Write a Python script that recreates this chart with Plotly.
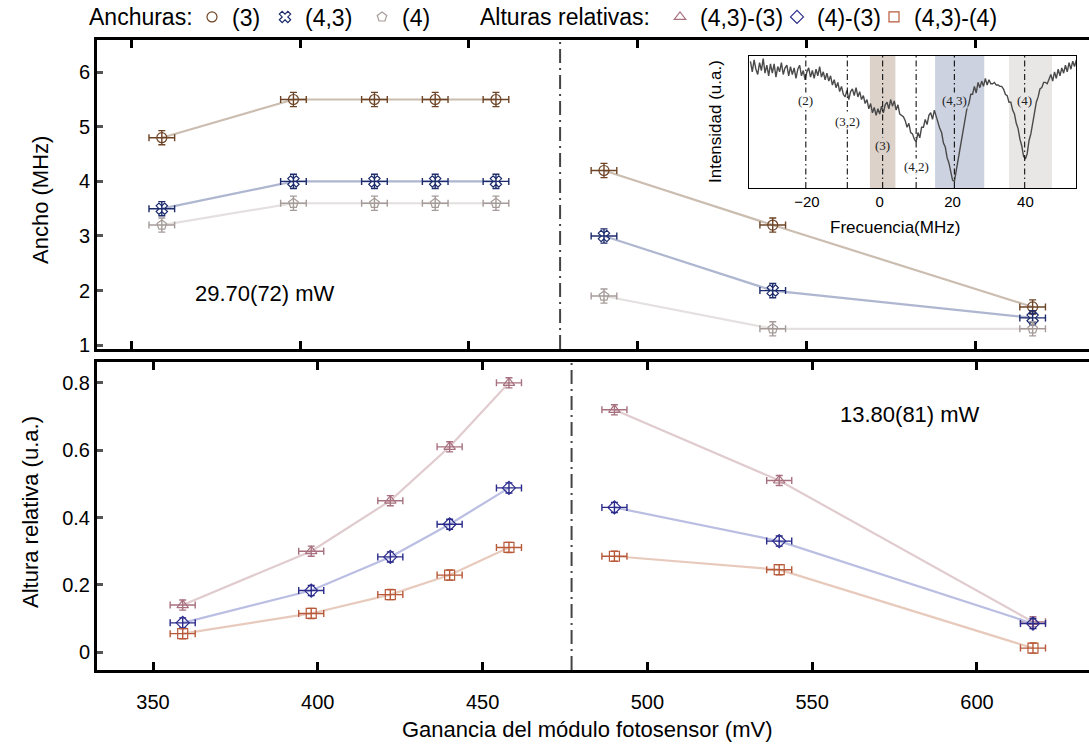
import plotly.graph_objects as go

# ---------------- data ----------------
gain_left = [359, 398, 422, 440, 458]
gain_right = [490, 540, 617]
gain_err = 3.8
separator_gain = 477

# widths (MHz)
w3_left = [4.8, 5.5, 5.5, 5.5, 5.5]
w3_right = [4.2, 3.2, 1.7]
w43_left = [3.5, 4.0, 4.0, 4.0, 4.0]
w43_right = [3.0, 2.0, 1.5]
w4_left = [3.2, 3.6, 3.6, 3.6, 3.6]
w4_right = [1.9, 1.3, 1.3]
width_err = 0.13

# relative heights (u.a.)
h43_3_left = [0.14, 0.30, 0.45, 0.61, 0.80]
h43_3_right = [0.72, 0.51, 0.09]
h4_3_left = [0.087, 0.183, 0.283, 0.38, 0.488]
h4_3_right = [0.43, 0.33, 0.085]
h43_4_left = [0.055, 0.115, 0.171, 0.229, 0.311]
h43_4_right = [0.285, 0.245, 0.012]
height_err = 0.015

power_top = "29.70(72) mW"
power_bottom = "13.80(81) mW"

# inset spectrum (intensity, u.a.) sampled every 0.5 MHz starting at -35.5 MHz
spec_start = -35.5
spec_step = 0.5
spectrum = [
    0.96, 0.88, 0.97, 0.90, 0.86, 0.95, 0.89, 0.98, 0.87, 0.93, 0.85, 0.94,
    0.87, 0.94, 0.84, 0.92, 0.88, 0.95, 0.86, 0.91, 0.93, 0.85,
    0.92, 0.86, 0.91, 0.83, 0.90, 0.93, 0.85, 0.89, 0.82, 0.88,
    0.91, 0.84, 0.89, 0.83, 0.90, 0.85, 0.92, 0.84, 0.88, 0.82,
    0.87, 0.81, 0.85, 0.78, 0.82, 0.76, 0.80, 0.73, 0.77, 0.71,
    0.69, 0.74, 0.67, 0.73, 0.75, 0.70, 0.76, 0.69, 0.73, 0.67,
    0.70, 0.64, 0.67, 0.60, 0.64, 0.57, 0.61, 0.55, 0.60, 0.56,
    0.62, 0.57, 0.63, 0.65, 0.60, 0.67, 0.62, 0.66, 0.59, 0.63,
    0.56, 0.55, 0.54, 0.51, 0.46, 0.49, 0.42, 0.41, 0.37, 0.35,
    0.42, 0.38, 0.46, 0.46, 0.52, 0.48, 0.55, 0.57, 0.52, 0.59,
    0.54, 0.51, 0.45, 0.42, 0.34, 0.31, 0.23, 0.19, 0.11, 0.06,
    0.05, 0.13, 0.19, 0.29, 0.35, 0.46, 0.51, 0.61, 0.64, 0.71,
    0.71, 0.77, 0.72, 0.80, 0.76, 0.81, 0.77, 0.83, 0.78, 0.82,
    0.79, 0.79, 0.80, 0.78, 0.78, 0.77, 0.77, 0.75, 0.71, 0.70,
    0.65, 0.65, 0.59, 0.56, 0.49, 0.45, 0.37, 0.32, 0.24, 0.22,
    0.26, 0.36, 0.41, 0.51, 0.57, 0.65, 0.69, 0.75, 0.76, 0.80,
    0.80, 0.79, 0.82, 0.86, 0.81, 0.88, 0.83, 0.90, 0.85, 0.91,
    0.87, 0.93, 0.88, 0.95, 0.90, 0.96, 0.92, 0.97,
]
transition_labels = ["(2)", "(3,2)", "(3)", "(4,2)", "(4,3)", "(4)"]
transition_freqs = [-20.3, -8.9, 0.8, 10.0, 20.5, 39.8]
label_heights = [0.665, 0.50, 0.325, 0.16, 0.66, 0.66]
label_bg = ["white", "white", "#dcd2ca", "white", "#cdd2e0", "#e9e7e6"]
band_lo = [-2.7, 15.2, 35.5]
band_hi = [4.3, 28.7, 47.3]
band_colors = ["#dcd2ca", "#cdd2e0", "#e9e7e6"]

# ---------------- figure ----------------
W, H = 1089, 745
fig = go.Figure()

FONT = "Liberation Sans, Arial, sans-serif"
LEG_FONT = 23

# legend slot (left px of each legend box) for each series
legend_slots = {"legend": 192, "legend2": 265, "legend3": 362,
                "legend4": 660, "legend5": 777, "legend6": 874}


def add_series(xaxis, yaxis, yl, yr, yerr, mcol, lcol, symbol, name, legend):
    fig.add_trace(go.Scatter(
        x=gain_left + [None] + gain_right, y=yl + [None] + yr,
        mode="lines", line=dict(color=lcol, width=2.2),
        xaxis=xaxis, yaxis=yaxis, showlegend=False, hoverinfo="skip"))
    fig.add_trace(go.Scatter(
        x=gain_left + gain_right, y=yl + yr, mode="markers",
        marker=dict(symbol=symbol, size=10, color=mcol,
                    line=dict(color=mcol, width=1.2)),
        error_x=dict(type="constant", value=gain_err, color=mcol,
                     thickness=1.4, width=3.5),
        error_y=dict(type="constant", value=yerr, color=mcol,
                     thickness=1.4, width=3.5),
        xaxis=xaxis, yaxis=yaxis, name=name, legend=legend,
        showlegend=True))


# top panel: widths
add_series("x2", "y2", w3_left, w3_right, width_err, "#6e4426", "#cbbdb0",
           "circle-open", "(3)", "legend")
add_series("x2", "y2", w43_left, w43_right, width_err, "#1c2b6b", "#aeb6d0",
           "x-open", "(4,3)", "legend2")
add_series("x2", "y2", w4_left, w4_right, width_err, "#a59c99", "#e4e0e0",
           "pentagon-open", "(4)", "legend3")

# bottom panel: relative heights
add_series("x", "y", h43_3_left, h43_3_right, height_err, "#a8717f", "#e0cbce",
           "triangle-up-open", "(4,3)-(3)", "legend4")
add_series("x", "y", h4_3_left, h4_3_right, height_err, "#2b2b8c", "#babee2",
           "diamond-open", "(4)-(3)", "legend5")
add_series("x", "y", h43_4_left, h43_4_right, height_err, "#b85a3a", "#e8cabd",
           "square-open", "(4,3)-(4)", "legend6")

# inset spectrum
fig.add_trace(go.Scatter(
    y=spectrum, x0=spec_start, dx=spec_step, mode="lines",
    line=dict(color="#4a4a4a", width=1.4), xaxis="x3", yaxis="y3",
    showlegend=False, hoverinfo="skip"))

shapes = []
for xa, ya in (("x2", "y2 domain"), ("x", "y domain")):
    shapes.append(dict(type="line", xref=xa, yref=ya, x0=separator_gain,
                       x1=separator_gain, y0=0, y1=1,
                       line=dict(color="#444444", width=2,
                                 dash="14px,5px,2px,5px")))
for lo, hi, c in zip(band_lo, band_hi, band_colors):
    shapes.append(dict(type="rect", xref="x3", yref="y3 domain", x0=lo, x1=hi,
                       y0=0, y1=1, fillcolor=c, line=dict(width=0),
                       layer="below"))
for f in transition_freqs:
    shapes.append(dict(type="line", xref="x3", yref="y3 domain", x0=f, x1=f,
                       y0=0, y1=1,
                       line=dict(color="#111111", width=1.1,
                                 dash="6px,3px,1.5px,3px")))


def ann(text, x, y, size, angle=0, family=FONT, **kw):
    d = dict(x=x / W, y=1 - y / H, xref="paper", yref="paper", text=text,
             showarrow=False, xanchor="center", yanchor="middle",
             textangle=angle, font=dict(family=family, size=size, color="black"))
    d.update(kw)
    return d


annotations = []
for lab, f, h, bg in zip(transition_labels, transition_freqs, label_heights, label_bg):
    annotations.append(dict(x=f, y=h, xref="x3", yref="y3", text=lab,
                            showarrow=False, bgcolor=bg, borderpad=0,
                            xanchor="center", yanchor="middle",
                            font=dict(family="Liberation Serif, Times New Roman, serif",
                                      size=13, color="#222")))
annotations += [
    ann(power_top, 265, 293, 22),
    ann(power_bottom, 910, 414, 22),
    ann("Ancho (MHz)", 40, 200, 22, angle=-90),
    ann("Altura relativa (u.a.)", 30, 512, 22, angle=-90),
    ann("Ganancia del módulo fotosensor (mV)", 587, 729, 22),
    ann("Frecuencia(MHz)", 895, 227, 17),
    ann("Intensidad (u.a.)", 716, 122, 17, angle=-90),
    dict(ann("Anchuras:", 87, 17, LEG_FONT), xanchor="left"),
    dict(ann("Alturas relativas:", 478, 17, LEG_FONT), xanchor="left"),
]

xdom = [97 / W, 1.0]
common_x = dict(showline=True, linecolor="black", linewidth=3, mirror="ticks",
                ticks="inside", ticklen=8, tickwidth=3, tickcolor="black",
                showgrid=False, zeroline=False, tickvals=[350, 400, 450, 500, 550, 600])
common_y = dict(showline=True, linecolor="black", linewidth=3, mirror=False,
                ticks="inside", ticklen=6, tickwidth=3, tickcolor="#555555",
                showgrid=False, zeroline=False,
                tickfont=dict(family=FONT, size=20, color="black"))

legends = {}
for key, px in legend_slots.items():
    legends[key] = dict(orientation="h", x=px / W, y=1 - 17 / H, xanchor="left",
                        yanchor="middle", font=dict(family=FONT, size=LEG_FONT),
                        itemwidth=30, bgcolor="rgba(0,0,0,0)", borderwidth=0)

fig.update_layout(
    width=W, height=H, margin=dict(l=0, r=0, t=0, b=0, autoexpand=False),
    paper_bgcolor="white", plot_bgcolor="rgba(0,0,0,0)",
    font=dict(family=FONT, size=20, color="black"),
    xaxis=dict(domain=xdom, range=[333, 634], anchor="y",
               tickfont=dict(family=FONT, size=20), ticklabelstandoff=12,
               **common_x),
    yaxis=dict(domain=[1 - 670 / H, 1 - 362 / H], range=[-0.053, 0.862],
               anchor="x", tickvals=[0, 0.2, 0.4, 0.6, 0.8],
               ticktext=["0", "0.2", "0.4", "0.6", "0.8"], **common_y),
    xaxis2=dict(domain=xdom, range=[339.8, 633.7], anchor="y2",
                showticklabels=False, **common_x),
    yaxis2=dict(domain=[1 - 349 / H, 1 - 40 / H], range=[0.93, 6.59],
                anchor="x2", tickvals=[1, 2, 3, 4, 5, 6], **common_y),
    xaxis3=dict(domain=[749 / W, 1076 / W], range=[-35.9, 53.9], anchor="y3",
                showline=True, linecolor="black", linewidth=1.3, mirror=True,
                ticks="", showgrid=False, zeroline=False,
                tickvals=[-20, 0, 20, 40],
                tickfont=dict(family=FONT, size=15, color="black")),
    yaxis3=dict(domain=[1 - 188 / H, 1 - 56 / H], range=[0, 1.0], anchor="x3",
                showline=True, linecolor="black", linewidth=1.3, mirror=True,
                ticks="", showticklabels=False, showgrid=False,
                zeroline=False),
    shapes=shapes, annotations=annotations,
    **legends,
)

fig.write_html("out.html", config={"displayModeBar": False},
               post_script="document.body.style.margin='0';document.body.style.overflow='hidden';")
